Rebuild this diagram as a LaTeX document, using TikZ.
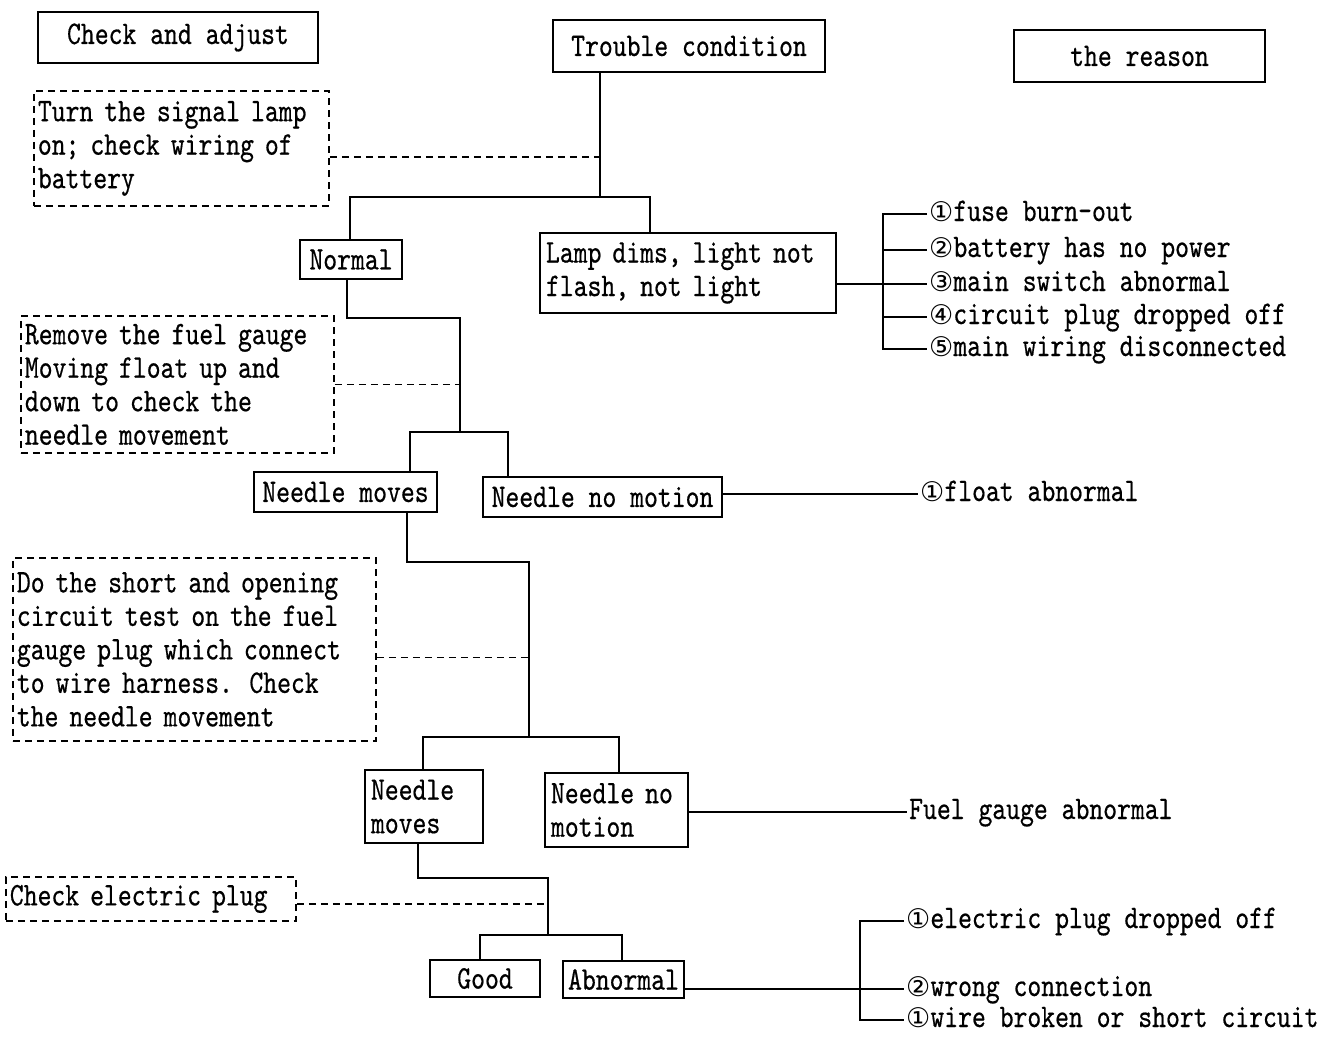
\documentclass[tikz,border=0pt]{standalone}
\usepackage{fontspec}
\newfontfamily\monofam{lmmono10-regular}[Extension=.otf, FakeStretch=0.8, FakeBold=0.5]
\newfontfamily\circfam{DejaVu Sans}
\newcommand{\mono}{\monofam\fontsize{33pt}{33.5pt}\selectfont}
\newcommand{\cnum}[1]{{\circfam\fontsize{27pt}{33.5pt}\selectfont #1}}

\begin{document}
\begin{tikzpicture}[
  x=1pt, y=-1pt,
  every node/.style={font=\mono, inner sep=4pt},
  box/.style={draw, line width=1.6pt, inner xsep=6pt},
  dashbox/.style={draw, line width=1.8pt, dash pattern=on 7pt off 5pt,
    anchor=north west, align=left, inner sep=4pt},
  link/.style={line width=1.6pt},
  dashlink/.style={line width=1.8pt, dash pattern=on 7pt off 5pt},
  cause/.style={anchor=west, inner xsep=2pt, inner ysep=0pt, text height=20pt, text depth=6pt}
]
\useasboundingbox (0,0) rectangle (1337,1043);

% headings
\node[box, minimum width=280pt, minimum height=51pt] (check) at (178,37.5) {Check and adjust};
\node[box, minimum width=272pt, minimum height=52pt] (trouble) at (689,46) {Trouble condition};
\node[box, minimum width=251pt, minimum height=52pt] (reason) at (1139.5,56) {the reason};

% conditions
\node[box, minimum width=102pt, minimum height=39pt] (normal) at (351,259.5) {Normal};
\node[box, minimum height=80pt, text width=284pt, align=left] (lamp) at (688,273)
  {Lamp dims, light not\\flash, not light};
\node[box, minimum width=183pt, minimum height=40pt] (moves) at (345.5,492) {Needle moves};
\node[box, minimum width=239pt, minimum height=40pt] (nomotion) at (602.5,497) {Needle no motion};
\node[box, minimum height=73pt, text width=106pt, align=left] (moves2) at (424,806.5)
  {Needle\\moves};
\node[box, minimum height=74pt, text width=131pt, align=left] (nomotion2) at (616.5,810)
  {Needle no\\motion};
\node[box, minimum width=110pt, minimum height=37pt] (good) at (485,978.5) {Good};
\node[box, minimum width=121pt, minimum height=37pt, inner xsep=2pt] (abnormal) at (623.5,979.5) {Abnormal};

% checks
\node[dashbox, minimum width=295pt, minimum height=115pt, text width=287pt] (signal) at (33,90)
  {Turn the signal lamp\\on; check wiring of\\battery};
\node[dashbox, minimum width=313pt, minimum height=137pt, text width=305pt] (float) at (20,315)
  {Remove the fuel gauge\\Moving float up and\\down to check the\\needle movement};
\node[dashbox, minimum width=363pt, minimum height=183pt, text width=355pt] (test) at (12,557)
  {Do the short and opening\\circuit test on the fuel\\gauge plug which connect\\to wire harness. Check\\the needle movement};
\node[dashbox, minimum width=290pt, minimum height=44pt, text width=282pt] (plug) at (5,876)
  {Check electric plug};

% causes
\node[cause] (r1) at (927,214) {\cnum{①}fuse burn-out};
\node[cause] (r2) at (927,250) {\cnum{②}battery has no power};
\node[cause] (r3) at (927,284) {\cnum{③}main switch abnormal};
\node[cause] (r4) at (927,317) {\cnum{④}circuit plug dropped off};
\node[cause] (r5) at (927,349) {\cnum{⑤}main wiring disconnected};
\node[cause] (f1) at (918,494) {\cnum{①}float abnormal};
\node[cause] (g1) at (907,812) {Fuel gauge abnormal};
\node[cause] (p1) at (904,921) {\cnum{①}electric plug dropped off};
\node[cause] (p2) at (904,989) {\cnum{②}wrong connection};
\node[cause] (p3) at (904,1020) {\cnum{①}wire broken or short circuit};

% junctions
\coordinate (j1) at (600,197);
\coordinate (b1l) at (350,197);
\coordinate (b1r) at (650,197);
\coordinate (k1) at (347,318);
\coordinate (k2) at (460,318);
\coordinate (b2l) at (410,432);
\coordinate (b2r) at (508,432);
\coordinate (k3) at (407,562);
\coordinate (k4) at (529,562);
\coordinate (b3l) at (423,737);
\coordinate (b3r) at (619,737);
\coordinate (k5) at (418,878);
\coordinate (k6) at (548,878);
\coordinate (b4l) at (480,935);
\coordinate (b4r) at (622,935);
\coordinate (m1) at (883,0);
\coordinate (m2) at (860,0);

% tree
\draw[link] (trouble.south -| j1) -- (j1);
\draw[link] (normal.north -| b1l) -- (b1l) -- (b1r) -- (lamp.north -| b1r);
\draw[link] (normal.south -| k1) -- (k1) -- (k2) -- (k2 |- b2l);
\draw[link] (moves.north -| b2l) -- (b2l) -- (b2r) -- (nomotion.north -| b2r);
\draw[link] (moves.south -| k3) -- (k3) -- (k4) -- (k4 |- b3l);
\draw[link] (moves2.north -| b3l) -- (b3l) -- (b3r) -- (nomotion2.north -| b3r);
\draw[link] (moves2.south -| k5) -- (k5) -- (k6) -- (k6 |- b4l);
\draw[link] (good.north -| b4l) -- (b4l) -- (b4r) -- (abnormal.north -| b4r);

% checks to tree
\draw[dashlink] ([yshift=-9pt]signal.east) -- ([yshift=-9pt]signal.east -| j1);
\draw[dashlink] (float.east) -- (float.east -| k2);
\draw[dashlink] ([yshift=-8pt]test.east) -- ([yshift=-8pt]test.east -| k4);
\draw[dashlink] ([yshift=-5pt]plug.east) -- ([yshift=-5pt]plug.east -| k6);

% tree to causes
\draw[link] (lamp.east |- r3.west) -- (r3.west);
\draw[link] (r1.west) -- (r1.west -| m1) -- (r5.west -| m1) -- (r5.west);
\draw[link] (r2.west -| m1) -- (r2.west);
\draw[link] (r4.west -| m1) -- (r4.west);
\draw[link] (nomotion.east |- f1.west) -- (f1.west);
\draw[link] (nomotion2.east |- g1.west) -- (g1.west);
\draw[link] (abnormal.east |- p2.west) -- (p2.west);
\draw[link] (p1.west) -- (p1.west -| m2) -- (p3.west -| m2) -- (p3.west);

\end{tikzpicture}
\end{document}
